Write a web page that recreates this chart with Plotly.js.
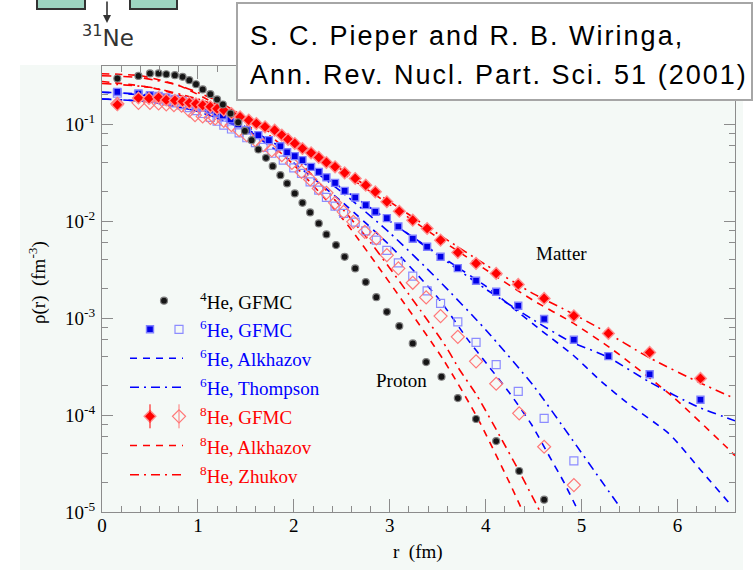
<!DOCTYPE html>
<html><head><meta charset="utf-8">
<script src="https://cdn.plot.ly/plotly-3.0.1.min.js"></script>
<style>html,body{margin:0;padding:0;background:#fff}#c{width:754px;height:570px}</style>
</head><body><div id="c"></div>
<script>
// ---- data: r in fm, values are log10(rho / fm^-3) ----
const he4_r = [0.16,0.38,0.50,0.59,0.67,0.76,0.84,0.91,0.98,1.05,1.13,1.20,1.26,1.34,1.42,1.49,1.56,1.63,1.71,1.78,1.86,1.93,2.01,2.09,2.17,2.26,2.34,2.44,2.53,2.64,2.75,2.86,2.97,3.10,3.24,3.38,3.54,3.71,3.90,4.11,4.35,4.61];
const he4_lg = [-0.529,-0.502,-0.477,-0.477,-0.485,-0.495,-0.512,-0.546,-0.588,-0.642,-0.691,-0.745,-0.797,-0.89,-0.98,-1.07,-1.165,-1.261,-1.347,-1.433,-1.526,-1.611,-1.714,-1.811,-1.910,-2.024,-2.137,-2.247,-2.368,-2.488,-2.629,-2.784,-2.935,-3.082,-3.261,-3.454,-3.605,-3.825,-4.041,-4.268,-4.577,-4.873];

const he6m_r = [0.16,0.38,0.50,0.59,0.67,0.76,0.84,0.91,0.98,1.05,1.13,1.20,1.26,1.34,1.42,1.51,1.63,1.74,1.86,1.93,2.01,2.09,2.18,2.26,2.34,2.43,2.53,2.64,2.75,2.85,2.97,3.09,3.24,3.39,3.53,3.71,3.90,4.11,4.34,4.61,4.92,5.28,5.71,6.24];
const he6m_lg = [-0.667,-0.684,-0.70,-0.71,-0.725,-0.74,-0.76,-0.78,-0.80,-0.825,-0.85,-0.88,-0.91,-0.95,-1.00,-1.062,-1.113,-1.165,-1.227,-1.29,-1.330,-1.371,-1.44,-1.492,-1.549,-1.605,-1.688,-1.756,-1.835,-1.904,-1.969,-2.055,-2.182,-2.265,-2.368,-2.485,-2.615,-2.729,-2.873,-3.010,-3.224,-3.392,-3.580,-3.842];

const he6p_r = [0.16,0.38,0.50,0.59,0.67,0.75,0.83,0.91,0.98,1.05,1.13,1.20,1.27,1.35,1.43,1.51,1.60,1.68,1.77,1.89,2.00,2.08,2.17,2.26,2.34,2.43,2.52,2.64,2.75,2.86,2.97,3.09,3.24,3.39,3.53,3.71,3.90,4.11,4.34,4.61,4.92];
const he6p_lg = [-0.68,-0.70,-0.72,-0.74,-0.76,-0.78,-0.80,-0.83,-0.86,-0.89,-0.93,-0.97,-1.01,-1.05,-1.09,-1.14,-1.19,-1.24,-1.30,-1.371,-1.45,-1.508,-1.595,-1.680,-1.756,-1.845,-1.921,-2.01,-2.10,-2.196,-2.302,-2.430,-2.567,-2.719,-2.849,-3.04,-3.25,-3.480,-3.756,-4.034,-4.472];

const he8m_r = [0.16,0.38,0.49,0.59,0.67,0.76,0.84,0.91,0.98,1.05,1.13,1.20,1.27,1.35,1.44,1.53,1.61,1.70,1.80,1.875,1.94,2.01,2.09,2.18,2.26,2.34,2.43,2.53,2.64,2.75,2.85,2.97,3.10,3.24,3.39,3.53,3.71,3.90,4.11,4.34,4.61,4.92,5.28,5.71,6.24];
const he8m_lg = [-0.80,-0.73,-0.735,-0.725,-0.75,-0.755,-0.765,-0.78,-0.79,-0.805,-0.82,-0.84,-0.856,-0.89,-0.925,-0.959,-0.993,-1.027,-1.062,-1.113,-1.157,-1.199,-1.251,-1.296,-1.343,-1.395,-1.440,-1.502,-1.560,-1.629,-1.698,-1.80,-1.898,-1.990,-2.076,-2.196,-2.323,-2.436,-2.539,-2.653,-2.797,-2.977,-3.158,-3.354,-3.622];

const he8p_r = [0.16,0.38,0.50,0.59,0.67,0.75,0.83,0.91,0.97,1.05,1.13,1.18,1.27,1.35,1.43,1.51,1.60,1.68,1.77,1.875,1.98,2.08,2.17,2.26,2.34,2.43,2.52,2.62,2.74,2.86,2.97,3.09,3.24,3.38,3.53,3.71,3.90,4.11,4.35,4.61,4.92];
const he8p_lg = [-0.79,-0.78,-0.78,-0.785,-0.795,-0.804,-0.81,-0.86,-0.907,-0.92,-0.935,-0.941,-0.966,-1.010,-1.062,-1.113,-1.165,-1.216,-1.27,-1.320,-1.40,-1.492,-1.570,-1.663,-1.708,-1.811,-1.904,-2.007,-2.110,-2.178,-2.351,-2.488,-2.636,-2.787,-2.979,-3.193,-3.446,-3.677,-3.982,-4.327,-4.722];

// model curves
const he6AlkM_r = [0,0.5,1.0,1.5,2.0,2.5,3.0,3.5,4.01,4.29,4.57,4.91,5.19,5.47,5.92,6.27,6.56];
const he6AlkM_lg = [-0.74,-0.77,-0.87,-1.06,-1.33,-1.66,-2.00,-2.34,-2.677,-2.90,-3.12,-3.38,-3.64,-3.87,-4.20,-4.60,-4.93];
const he6ThoM_r = [0,0.5,1.0,1.5,2.0,2.5,3.0,3.5,4.0,4.5,4.88,5.27,5.71,6.2,6.6];
const he6ThoM_lg = [-0.67,-0.70,-0.82,-1.03,-1.32,-1.66,-2.00,-2.35,-2.70,-3.02,-3.24,-3.40,-3.66,-3.91,-4.06];
const he6AlkP_r = [0,0.5,1.0,1.5,2.0,2.5,3.0,3.51,3.82,4.01,4.24,4.48,4.65,4.82,4.97];
const he6AlkP_lg = [-0.67,-0.71,-0.84,-1.06,-1.40,-1.80,-2.25,-2.80,-3.23,-3.47,-3.76,-4.10,-4.40,-4.70,-5.0];
const he6ThoP_r = [0,0.5,1.0,1.5,2.0,2.5,3.0,3.5,4.0,4.5,4.9,5.2,5.4];
const he6ThoP_lg = [-0.74,-0.77,-0.87,-1.05,-1.33,-1.70,-2.12,-2.60,-3.12,-3.70,-4.25,-4.67,-4.95];

const he8AlkM_r = [0,0.5,1.0,1.5,2.0,2.5,3.0,3.5,4.0,4.5,4.91,5.33,5.95,6.51,6.6];
const he8AlkM_lg = [-0.56,-0.62,-0.76,-0.96,-1.21,-1.50,-1.83,-2.17,-2.50,-2.82,-3.05,-3.33,-3.81,-4.33,-4.42];
const he8ZhuM_r = [0,0.5,1.0,1.5,2.0,2.5,3.0,3.5,4.0,4.5,4.84,5.16,5.71,6.24,6.6];
const he8ZhuM_lg = [-0.58,-0.62,-0.74,-0.93,-1.18,-1.47,-1.80,-2.13,-2.45,-2.75,-2.92,-3.09,-3.41,-3.67,-3.83];
const he8AlkP_r = [0,0.4,0.8,1.2,1.6,2.0,2.3,2.57,2.88,3.125,3.56,3.91,4.25,4.39];
const he8AlkP_lg = [-0.48,-0.50,-0.60,-0.80,-1.07,-1.42,-1.74,-2.05,-2.47,-2.81,-3.43,-4.02,-4.70,-5.0];
const he8ZhuP_r = [0,0.4,0.8,1.2,1.6,2.0,2.4,2.8,3.32,3.59,3.72,3.91,4.15,4.36,4.57];
const he8ZhuP_lg = [-0.50,-0.52,-0.60,-0.76,-1.00,-1.33,-1.75,-2.22,-2.92,-3.30,-3.52,-3.80,-4.22,-4.60,-5.0];

const yTickVals = [1e-5,1e-4,1e-3,1e-2,1e-1];
const yTickText = ['10<sup>-5</sup>','10<sup>-4</sup>','10<sup>-3</sup>','10<sup>-2</sup>','10<sup>-1</sup>'];
const xTickVals = [0,1,2,3,4,5,6];

const legendLabels = ['<sup>4</sup>He, GFMC','<sup>6</sup>He, GFMC','<sup>6</sup>He, Alkhazov','<sup>6</sup>He, Thompson','<sup>8</sup>He, GFMC','<sup>8</sup>He, Alkhazov','<sup>8</sup>He, Zhukov'];

// ---- styling / layout ----
const toRho = a => a.map(v => Math.pow(10, v));
const BLUE = '#0000ff', LBLUE = '#8c8cff', RED = '#ff0000', LRED = '#ff7878';
const DASH = '7px,6px', DASHDOT = '9px,5px,2px,5px';
const L = 102, R = 735, T = 66, B = 512;
const px = x => (x - L) / (R - L);
const py = y => (B - y) / (B - T);
const SERIF = 'Liberation Serif, Times New Roman, serif';

function line(r, lg, color, dash) {
  return {x: r, y: toRho(lg), mode: 'lines', type: 'scatter', line: {color: color, dash: dash, width: 1.6, shape: 'spline', smoothing: 0.6}, hoverinfo: 'skip'};
}
function pts(r, lg, sym, color, size, lc, lw) {
  return {x: r, y: toRho(lg), mode: 'markers', type: 'scatter', marker: {symbol: sym, color: color, size: size, line: {color: lc, width: lw}}};
}

const traces = [
  line(he6AlkM_r, he6AlkM_lg, BLUE, DASH),
  line(he6ThoM_r, he6ThoM_lg, BLUE, DASHDOT),
  line(he6AlkP_r, he6AlkP_lg, BLUE, DASH),
  line(he6ThoP_r, he6ThoP_lg, BLUE, DASHDOT),
  line(he8AlkM_r, he8AlkM_lg, RED, DASH),
  line(he8ZhuM_r, he8ZhuM_lg, RED, DASHDOT),
  line(he8AlkP_r, he8AlkP_lg, RED, DASH),
  line(he8ZhuP_r, he8ZhuP_lg, RED, DASHDOT),
  pts(he6p_r, he6p_lg, 'square-open', LBLUE, 8, LBLUE, 1.2),
  pts(he8p_r, he8p_lg, 'diamond-open', LRED, 10, LRED, 1.2),
  pts(he6m_r, he6m_lg, 'square', '#0000e6', 7, '#8080ff', 1.4),
  pts(he8m_r, he8m_lg, 'diamond', '#ff0000', 9, '#ff8c8c', 1.4),
  pts(he4_r, he4_lg, 'circle', '#151515', 7, '#808080', 1.2)
];

// legend (drawn manually on an overlay axis spanning the plot area 0..1)
const rowY = [300.7, 329.3, 358.3, 387.3, 416.3, 445.5, 474.8];
const legSym = [
  {x: 164, row: 0, s: 'circle', c: '#151515', size: 7, lc: '#808080', lw: 1.2},
  {x: 150, row: 1, s: 'square', c: '#0000e6', size: 7, lc: '#8080ff', lw: 1.4},
  {x: 179, row: 1, s: 'square-open', c: LBLUE, size: 8, lc: LBLUE, lw: 1.2},
  {x: 150, row: 4, s: 'diamond', c: '#ff0000', size: 9, lc: '#ff8c8c', lw: 1.4},
  {x: 179, row: 4, s: 'diamond-open', c: LRED, size: 10, lc: LRED, lw: 1.2}
];
legSym.forEach(m => traces.push({
  x: [px(m.x)], y: [py(rowY[m.row])], xaxis: 'x2', yaxis: 'y2', mode: 'markers', type: 'scatter',
  marker: {symbol: m.s, color: m.c, size: m.size, line: {color: m.lc, width: m.lw}}, hoverinfo: 'skip'
}));

const shapes = [];
// background panel
shapes.push({type: 'rect', xref: 'paper', yref: 'paper', x0: px(20), x1: px(743), y0: py(572), y1: py(65), fillcolor: '#f4f9f6', line: {width: 0}, layer: 'below'});
// legend line samples
[[2, BLUE, DASH], [3, BLUE, DASHDOT], [5, RED, DASH], [6, RED, DASHDOT]].forEach(d => shapes.push({
  type: 'line', xref: 'paper', yref: 'paper', x0: px(130), x1: px(183), y0: py(rowY[d[0]]), y1: py(rowY[d[0]]),
  line: {color: d[1], dash: d[2], width: 1.6}
}));
// legend error bars for 8He GFMC
[[150, RED], [179, LRED]].forEach(d => shapes.push({
  type: 'line', xref: 'paper', yref: 'paper', x0: px(d[0]), x1: px(d[0]), y0: py(rowY[4] + 12), y1: py(rowY[4] - 12),
  line: {color: d[1], width: 1}
}));
// citation box
shapes.push({type: 'rect', xref: 'paper', yref: 'paper', x0: px(237), x1: px(752), y0: py(100), y1: py(3), fillcolor: '#ffffff', line: {color: '#a6a6a6', width: 2}, layer: 'above'});
// top-left fragment of a diagram
shapes.push({type: 'rect', xref: 'paper', yref: 'paper', x0: px(37), x1: px(85), y0: py(9), y1: py(-6), fillcolor: '#9dd5c1', line: {color: '#333333', width: 2}, layer: 'above'});
shapes.push({type: 'rect', xref: 'paper', yref: 'paper', x0: px(130), x1: px(177), y0: py(9), y1: py(-6), fillcolor: '#9dd5c1', line: {color: '#333333', width: 2}, layer: 'above'});

const annotations = [];
function note(x, y, text, font, extra) {
  annotations.push(Object.assign({xref: 'paper', yref: 'paper', x: px(x), y: py(y), xanchor: 'center', yanchor: 'middle', showarrow: false, text: text, font: font}, extra || {}));
}
legendLabels.forEach((t, i) => note(198, rowY[i], t, {family: SERIF, size: 19, color: i === 0 ? '#000000' : (i < 4 ? BLUE : RED)}, {xanchor: 'left'}));
note(561, 253, 'Matter', {family: SERIF, size: 19, color: '#000'});
note(401, 380, 'Proton', {family: SERIF, size: 19, color: '#000'});
note(418, 552, 'r\u00a0\u00a0(fm)', {family: SERIF, size: 19, color: '#000'});
note(37, 283, '\u03c1(r)\u00a0\u00a0(fm<sup>-3</sup>)', {family: SERIF, size: 19, color: '#000'}, {textangle: -90});
const citeFont = {family: 'Liberation Sans, Arial, sans-serif', size: 27, color: '#000'};
note(248, 36, '<span style="letter-spacing:2px">S. C. Pieper and R. B. Wiringa,</span>', citeFont, {xanchor: 'left'});
note(248, 75, '<span style="letter-spacing:2px">Ann. Rev. Nucl. Part. Sci. 51 (2001)</span>', citeFont, {xanchor: 'left'});
note(108, 36, '<sup>31</sup>Ne', {family: 'DejaVu Sans, sans-serif', size: 23, color: '#333333'});
annotations.push({xref: 'paper', yref: 'paper', x: px(107), y: py(23), ax: 0, ay: -26, text: '', showarrow: true, arrowhead: 2, arrowsize: 1, arrowwidth: 1.6, arrowcolor: '#333333'});

const minorY = [];
[-5, -4, -3, -2, -1].forEach(e => [2, 4, 6, 8].forEach(m => minorY.push(m * Math.pow(10, e))));

const axCol = '#8c8c8c';
const layout = {
  width: 754, height: 570, showlegend: false,
  margin: {l: L, r: 754 - R, t: T, b: 570 - B, pad: 0},
  paper_bgcolor: '#ffffff', plot_bgcolor: '#f4f9f6',
  xaxis: {range: [0, 6.6], tickmode: 'array', tickvals: xTickVals, ticks: 'inside', ticklen: 13, tickwidth: 1, tickcolor: axCol,
    showline: true, linecolor: axCol, linewidth: 1, mirror: 'allticks', showgrid: false, zeroline: false,
    tickfont: {family: SERIF, size: 19, color: '#000'}, ticklabelstandoff: -4,
    minor: {dtick: 0.2, ticks: 'inside', ticklen: 6, tickcolor: axCol, showgrid: false}},
  yaxis: {type: 'log', range: [-5, -0.40], tickmode: 'array', tickvals: yTickVals, ticktext: yTickText, ticks: 'inside', ticklen: 11, tickwidth: 1, tickcolor: axCol,
    showline: true, linecolor: axCol, linewidth: 1, mirror: 'allticks', showgrid: false, zeroline: false,
    tickfont: {family: SERIF, size: 19, color: '#000'}, ticklabelstandoff: 2,
    minor: {tickmode: 'array', tickvals: minorY, ticks: 'inside', ticklen: 6, tickcolor: axCol, showgrid: false}},
  xaxis2: {overlaying: 'x', range: [0, 1], visible: false, fixedrange: true},
  yaxis2: {overlaying: 'y', range: [0, 1], visible: false, fixedrange: true},
  shapes: shapes, annotations: annotations
};
Plotly.newPlot('c', traces, layout, {staticPlot: true});
</script></body></html>
